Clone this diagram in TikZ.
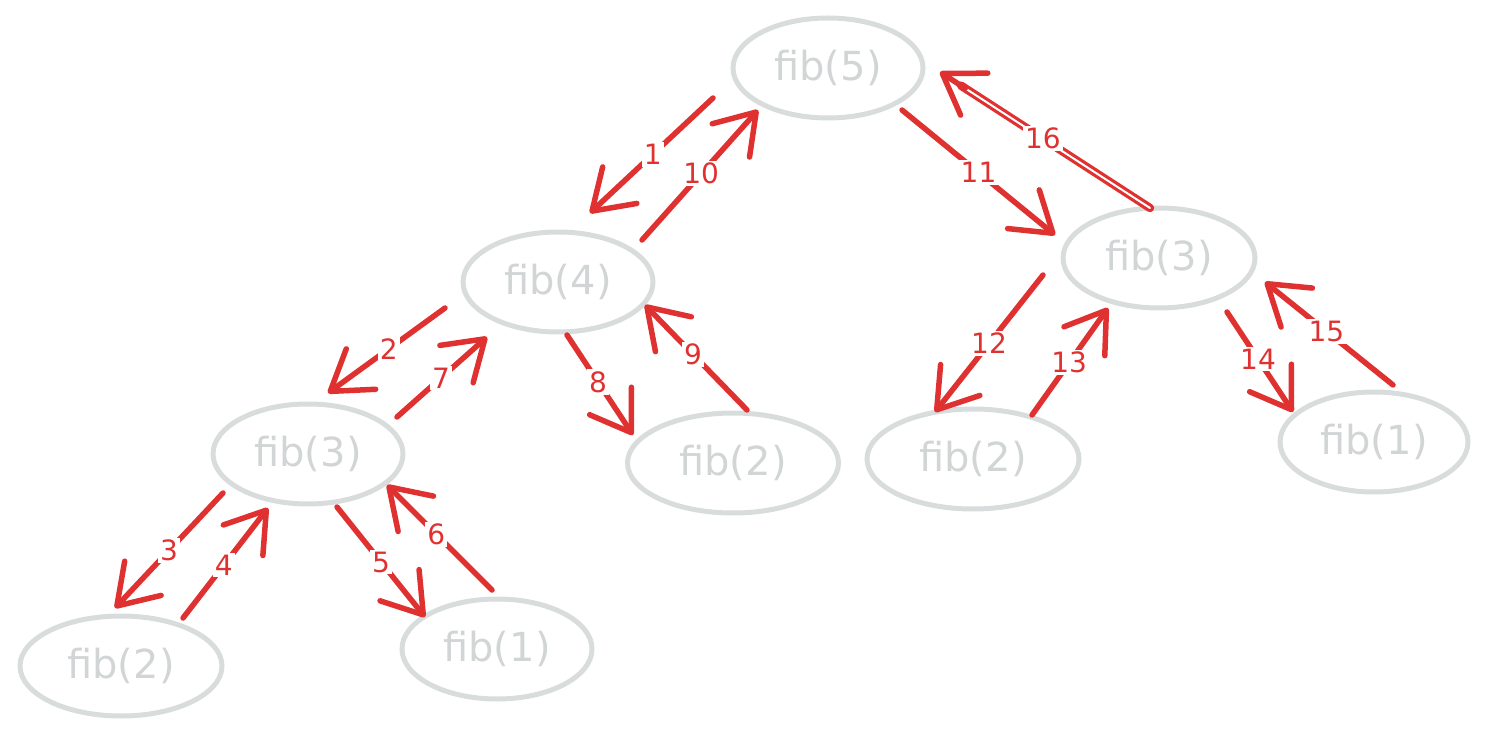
\documentclass[tikz,border=0pt]{standalone}
\usepackage{fontspec}
\setmainfont{DejaVu Sans}
\usetikzlibrary{arrows.meta,shapes.geometric,calc}
\definecolor{nodegray}{HTML}{D9DCDC}
\definecolor{textgray}{HTML}{D2D5D5}
\definecolor{arrred}{HTML}{E03131}
\tikzset{
  fibnode/.style={ellipse, draw=nodegray, line width=5pt, text=textgray, inner sep=0pt,
    minimum width=190pt, minimum height=100pt, font=\fontsize{40}{44}\selectfont},
  redarrow/.style={draw=arrred, line width=5.5pt, line cap=round,
    -{Straight Barb[round, length=38pt, width=50pt]}},
  redline/.style={draw=arrred, line width=5.5pt, line cap=round},
  steplab/.style={fill=white, text=arrred, inner sep=2pt, font=\fontsize{28}{30}\selectfont},
}
\begin{document}
\begin{tikzpicture}[x=1pt, y=-1pt]
\useasboundingbox (0,0) rectangle (1488,735);
% nodes
\node[fibnode] (f5)   at (828,68)  {fib(5)};
\node[fibnode] (f4)   at (558,282) {fib(4)};
\node[fibnode, minimum width=192pt] (f3r) at (1159,258) {fib(3)};
\node[fibnode, minimum width=212pt] (f2r) at (973,459) {fib(2)};
\node[fibnode, minimum width=188pt] (f1r) at (1374,442) {fib(1)};
\node[fibnode] (f3l)  at (308,454) {fib(3)};
\node[fibnode, minimum width=211pt] (f2m)  at (733,463) {fib(2)};
\node[fibnode, minimum width=202pt] (f2l)  at (121,666) {fib(2)};
\node[fibnode] (f1b)  at (497,649) {fib(1)};
% arrow end points
\coordinate (s1)  at (713,98);   \coordinate (t1)  at (590,213);
\coordinate (s10) at (642,240);  \coordinate (t10) at (758,110);
\coordinate (s11) at (902,110);  \coordinate (t11) at (1055,235);
\coordinate (s16) at (1150,208); \coordinate (t16) at (940,72);
\coordinate (s2)  at (445,308);  \coordinate (t2)  at (328,393);
\coordinate (s7)  at (397,417);  \coordinate (t7)  at (487,337);
\coordinate (s8)  at (567,335);  \coordinate (t8)  at (633,435);
\coordinate (s9)  at (747,410);  \coordinate (t9)  at (645,305);
\coordinate (s12) at (1043,275); \coordinate (t12) at (935,412);
\coordinate (s13) at (1032,415); \coordinate (t13) at (1108,308);
\coordinate (s14) at (1227,312); \coordinate (t14) at (1293,412);
\coordinate (s15) at (1393,385); \coordinate (t15) at (1265,282);
\coordinate (s3)  at (223,493);  \coordinate (t3)  at (115,608);
\coordinate (s4)  at (183,618);  \coordinate (t4)  at (268,508);
\coordinate (s5)  at (337,507);  \coordinate (t5)  at (425,617);
\coordinate (s6)  at (492,590);  \coordinate (t6)  at (387,485);
% arrows
\draw[redarrow] (s1) -- node[steplab, pos=0.49] {1} (t1);
\draw[redarrow] (s10) -- node[steplab, pos=0.51] {10} (t10);
\draw[redarrow] (s11) -- node[steplab, pos=0.5] {11} (t11);
\draw[redline, double=white, double distance=2pt, line width=3.2pt] (s16) -- ($(s16)!0.9!(t16)$);
\draw[redarrow] ($(s16)!0.88!(t16)$) -- (t16);
\path (s16) -- node[steplab, pos=0.51] {16} (t16);
\draw[redarrow] (s2) -- node[steplab, pos=0.48] {2} (t2);
\draw[redarrow] (s7) -- node[steplab, pos=0.49] {7} (t7);
\draw[redarrow] (s8) -- node[steplab, pos=0.47] {8} (t8);
\draw[redarrow] (s9) -- node[steplab, pos=0.53] {9} (t9);
\draw[redarrow] (s12) -- node[steplab, pos=0.5] {12} (t12);
\draw[redarrow] (s13) -- node[steplab, pos=0.49] {13} (t13);
\draw[redarrow] (s14) -- node[steplab, pos=0.47] {14} (t14);
\draw[redarrow] (s15) -- node[steplab, pos=0.52] {15} (t15);
\draw[redarrow] (s3) -- node[steplab, pos=0.5] {3} (t3);
\draw[redarrow] (s4) -- node[steplab, pos=0.48] {4} (t4);
\draw[redarrow] (s5) -- node[steplab, pos=0.5] {5} (t5);
\draw[redarrow] (s6) -- node[steplab, pos=0.53] {6} (t6);
\end{tikzpicture}
\end{document}
